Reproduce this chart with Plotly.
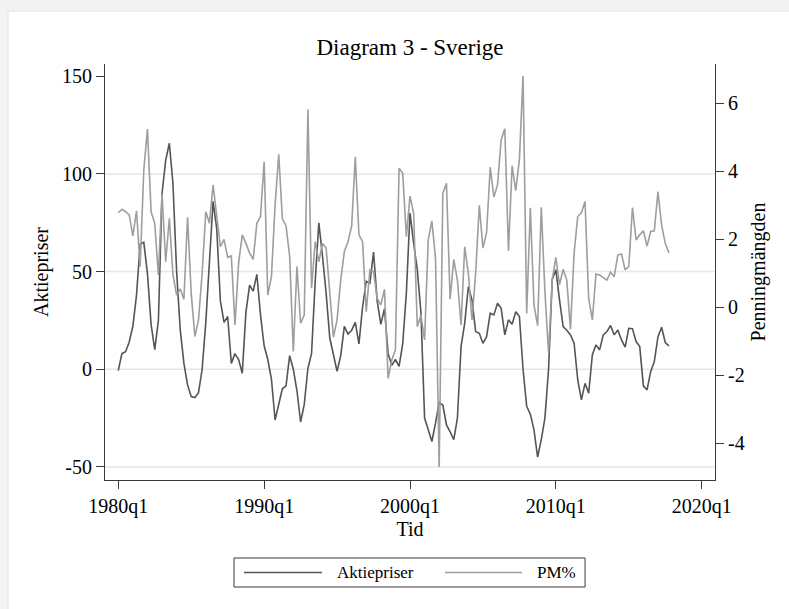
import pandas as pd
import plotly.graph_objects as go

# ---------------- data (quarterly, 1980q1 onwards) ----------------
start_period = "1980Q1"

aktiepriser = [
    -0.7, 8, 9, 14, 22, 38, 64, 65, 49, 23,
    10, 25, 90, 107, 115.7, 95, 50, 20, 3, -8,
    -14, -14.5, -12, 0, 24, 58, 86, 72, 35, 24,
    27, 3, 8, 5, -2, 29, 43, 40, 48.6, 28,
    12, 5, -5, -26, -18, -10, -8.5, 7, 0, -11,
    -27, -18, 0.5, 8, 45, 75, 58, 39, 16, 8,
    -1, 7, 22, 18, 20, 24, 13, 32, 45, 44,
    60, 35, 23, 31, 8, 2, 5, 1.5, 13, 39,
    80, 64.5, 51, 29, -25, -31, -37, -27.6, -17, -18.3,
    -28.5, -32, -36, -25, 11.6, 23.5, 42.3, 35.5, 19.3, 18.4,
    13.3, 16.7, 28.7, 27.8, 33.8, 31.2, 17.6, 25.3, 23, 29.5,
    27, 0, -19, -23, -31, -45, -36, -25, 0, 46,
    51, 35.5, 21.8, 20, 17.6, 13.3, -5.5, -15.7, -7.2, -12.3,
    7.3, 12.5, 9.9, 17.6, 19.3, 22.4, 17.6, 20.1, 15, 11.3,
    21, 20.8, 14.2, 11.6, -8.5, -10.6, -1.2, 3.9, 16.7, 21.5,
    13.7, 12,
]

pm_pct = [
    2.78, 2.88, 2.81, 2.72, 2.1, 2.84, 1.2, 4.04, 5.24, 2.81,
    2.47, 0.95, 3.33, 1.34, 2.62, 0.95, 0.36, 0.54, 0.24, 2.65,
    0.41, -0.86, -0.37, 1.0, 2.81, 2.47, 3.6, 2.76, 1.78, 2.0,
    1.47, 1.51, -0.52, 1.3, 2.13, 1.88, 1.6, 1.41, 2.47, 2.67,
    4.28, 0.36, 0.9, 3.0, 4.5, 2.6, 2.4, 1.5, -1.3, 1.2,
    -0.47, -0.23, 5.82, 0.56, 1.93, 1.34, 1.88, 1.74, 0.41, -0.88,
    -0.37, 0.8, 1.64, 1.93, 2.39, 4.43, 2.13, 1.93, -0.13, 1.1,
    1.05, 0.26, 0.07, 0.53, -2.09, -1.55, -1.25, 4.09, 3.94, 2.08,
    3.27, 2.76, -0.57, -0.23, -0.96, 1.98, 2.54, 1.44, -4.7, 3.35,
    3.65, 0.24, 1.41, 0.8, -0.52, 1.78, 1.0, -0.37, 1.0, 3.0,
    1.74, 2.2, 4.12, 3.24, 3.6, 4.92, 5.25, 1.66, 4.16, 3.43,
    4.35, 6.8, -0.18, 2.93, 0.07, -0.54, 2.94, 0.46, -1.35, 0.8,
    1.47, 0.66, 1.12, 0.8, -0.65, 1.59, 2.67, 2.78, 3.11, 0.26,
    -0.37, 0.98, 0.95, 0.88, 0.8, 1.03, 0.9, 1.54, 1.57, 1.1,
    1.2, 2.93, 1.98, 2.13, 2.25, 1.8, 2.23, 2.25, 3.4, 2.42,
    1.88, 1.6,
]

x_tick_values = [1980, 1990, 2000, 2010, 2020]
x_tick_labels = ["1980q1", "1990q1", "2000q1", "2010q1", "2020q1"]
left_ticks = [-50, 0, 50, 100, 150]
left_tick_labels = ["-50", "0", "50", "100", "150"]
right_ticks = [-4, -2, 0, 2, 4, 6]
right_tick_labels = ["-4", "-2", "0", "2", "4", "6"]
grid_values = [-50, 0, 50, 100]

series_names = ["Aktiepriser", "PM%"]
title_text = "Diagram 3 - Sverige"
x_title = "Tid"
left_title = "Aktiepriser"
right_title = "Penningmängden"

# ---------------- build ----------------
periods = pd.period_range(start_period, periods=len(aktiepriser), freq="Q")
t = [p.year + (p.quarter - 1) / 4 for p in periods]

FONT = "Liberation Serif, Times New Roman, serif"
DARK = "#555555"
LIGHT = "#9e9e9e"
AXIS = "#3a3a3a"

fig = go.Figure()
fig.add_trace(go.Scatter(x=t, y=aktiepriser, mode="lines", name=series_names[0],
                         line=dict(color=DARK, width=1.6), yaxis="y"))
fig.add_trace(go.Scatter(x=t, y=pm_pct, mode="lines", name=series_names[1],
                         line=dict(color=LIGHT, width=1.6), yaxis="y2"))

shapes = []
# outer frame (graph region)
shapes.append(dict(type="rect", xref="paper", yref="paper", x0=-0.2, x1=1.2, y0=-0.4, y1=1.2,
                   fillcolor="#f3f3f3", line=dict(width=0), layer="below"))
shapes.append(dict(type="rect", xref="paper", yref="paper", x0=-0.159, x1=1.2, y0=-0.4, y1=1.1274,
                   fillcolor="white", line=dict(color="#e4e4e4", width=1), layer="below"))
for g in grid_values:
    shapes.append(dict(type="line", xref="paper", yref="y", x0=0, x1=1, y0=g, y1=g,
                       line=dict(color="#e6e6e6", width=1.5), layer="below"))

# legend box drawn manually (paper coordinates)
shapes.append(dict(type="rect", xref="paper", yref="paper", x0=0.2115, x1=0.787, y0=-0.2572, y1=-0.1875,
                   fillcolor="white", line=dict(color=AXIS, width=1)))
shapes.append(dict(type="line", xref="paper", yref="paper", x0=0.2279, x1=0.3557, y0=-0.2224, y1=-0.2224,
                   line=dict(color=DARK, width=1.6)))
shapes.append(dict(type="line", xref="paper", yref="paper", x0=0.5574, x1=0.6836, y0=-0.2224, y1=-0.2224,
                   line=dict(color=LIGHT, width=1.6)))

annotations = [
    dict(text=series_names[0], xref="paper", yref="paper", x=0.377, y=-0.2224, xanchor="left",
         yanchor="middle", showarrow=False, font=dict(family=FONT, size=17, color="black")),
    dict(text=series_names[1], xref="paper", yref="paper", x=0.705, y=-0.2224, xanchor="left",
         yanchor="middle", showarrow=False, font=dict(family=FONT, size=17, color="black")),
]

axis_common = dict(showline=True, linecolor=AXIS, linewidth=1, ticks="outside", ticklen=8,
                   tickcolor=AXIS, tickwidth=1, showgrid=False, zeroline=False,
                   tickfont=dict(family=FONT, size=20, color="black"))

fig.update_layout(
    width=789, height=609, autosize=False,
    margin=dict(l=105, r=74, t=64, b=129),
    paper_bgcolor="white", plot_bgcolor="white",
    showlegend=False,
    font=dict(family=FONT, color="black"),
    title=dict(text=title_text, x=410 / 789, xanchor="center", y=1 - 47 / 609, yanchor="middle",
               font=dict(family=FONT, size=23, color="black")),
    xaxis=dict(range=[1979.09, 2020.91], tickmode="array", tickvals=x_tick_values,
               ticktext=x_tick_labels,
               title=dict(text=x_title, standoff=4, font=dict(family=FONT, size=20)),
               **axis_common),
    yaxis=dict(range=[-56.7, 156.3], tickmode="array", tickvals=left_ticks,
               ticktext=left_tick_labels,
               title=dict(text=left_title, standoff=8, font=dict(family=FONT, size=20)),
               **axis_common),
    yaxis2=dict(range=[-5.08, 7.156], tickmode="array", tickvals=right_ticks,
                ticktext=right_tick_labels, overlaying="y",
                side="right", anchor="x",
                title=dict(text=right_title, standoff=7, font=dict(family=FONT, size=20)),
                **axis_common),
    shapes=shapes,
    annotations=annotations,
)

fig.write_html(
    "out.html",
    config={"displayModeBar": False},
    post_script="document.body.style.margin='0px';document.documentElement.style.overflow='hidden';",
)
